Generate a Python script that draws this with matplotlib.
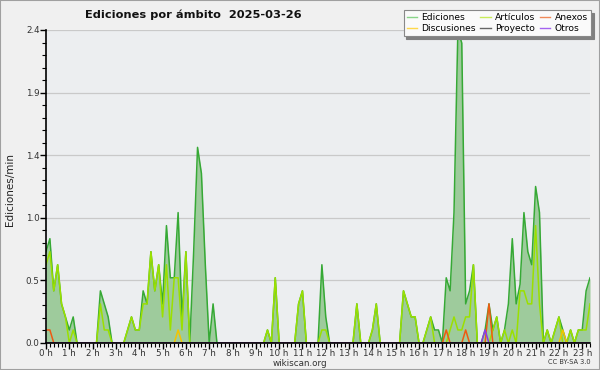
import matplotlib.pyplot as plt
import numpy as np
from matplotlib.patches import Rectangle
from matplotlib.lines import Line2D

# ediciones/min, media de cada tramo de 10 minutos (00:00 ... 23:20)
ediciones = [
    0.7, 0.8, 0.4, 0.6, 0.3, 0.2, 0.1, 0.2, 0, 0, 0, 0,
    0, 0, 0.4, 0.3, 0.2, 0, 0, 0, 0, 0.1, 0.2, 0.1,
    0.1, 0.4, 0.3, 0.7, 0.4, 0.6, 0.3, 0.9, 0.5, 0.5, 1.0, 0.2,
    0.7, 0, 0.7, 1.5, 1.3, 0.6, 0, 0.3, 0, 0, 0, 0,
    0, 0, 0, 0, 0, 0, 0, 0, 0, 0.1, 0, 0.5,
    0, 0, 0, 0, 0, 0.3, 0.4, 0, 0, 0, 0, 0.6,
    0.2, 0, 0, 0, 0, 0, 0, 0, 0.3, 0, 0, 0,
    0.1, 0.3, 0, 0, 0, 0, 0, 0, 0.4, 0.3, 0.2, 0.2,
    0, 0, 0.1, 0.2, 0.1, 0.1, 0, 0.5, 0.4, 1.0, 2.4, 2.3,
    0.3, 0.4, 0.6, 0, 0, 0.1, 0.3, 0.1, 0.2, 0, 0.1, 0.3,
    0.8, 0.3, 0.45, 1.0, 0.7, 0.6, 1.2, 1.0, 0, 0.1, 0, 0.1,
    0.2, 0.1, 0, 0.1, 0, 0.1, 0.1, 0.4, 0.5,
]
articulos = [
    0.6, 0.7, 0.4, 0.6, 0.3, 0.2, 0, 0.1, 0, 0, 0, 0,
    0, 0, 0.3, 0.1, 0.1, 0, 0, 0, 0, 0.1, 0.2, 0.1,
    0.1, 0.3, 0.3, 0.7, 0.4, 0.6, 0.2, 0.6, 0.1, 0.5, 0.5, 0.1,
    0.7, 0, 0, 0, 0, 0, 0, 0, 0, 0, 0, 0,
    0, 0, 0, 0, 0, 0, 0, 0, 0, 0.1, 0, 0.5,
    0, 0, 0, 0, 0, 0.3, 0.4, 0, 0, 0, 0, 0.1,
    0.1, 0, 0, 0, 0, 0, 0, 0, 0.3, 0, 0, 0,
    0.1, 0.3, 0, 0, 0, 0, 0, 0, 0.4, 0.3, 0.2, 0.2,
    0, 0, 0.1, 0.2, 0, 0, 0, 0, 0.1, 0.2, 0.1, 0.1,
    0.2, 0.2, 0.6, 0, 0, 0, 0, 0.1, 0.2, 0, 0.1, 0,
    0.1, 0, 0.4, 0.4, 0.3, 0.3, 0.9, 0.3, 0, 0.1, 0, 0.1,
    0.2, 0, 0, 0.1, 0, 0.1, 0.1, 0.1, 0.3,
]
anexos = [
    0.1, 0.1, 0, 0, 0, 0, 0, 0, 0, 0, 0, 0,
    0, 0, 0, 0, 0, 0, 0, 0, 0, 0, 0, 0,
    0, 0, 0, 0, 0, 0, 0, 0, 0, 0, 0, 0,
    0, 0, 0, 0, 0, 0, 0, 0, 0, 0, 0, 0,
    0, 0, 0, 0, 0, 0, 0, 0, 0, 0, 0, 0,
    0, 0, 0, 0, 0, 0, 0, 0, 0, 0, 0, 0,
    0, 0, 0, 0, 0, 0, 0, 0, 0, 0, 0, 0,
    0, 0, 0, 0, 0, 0, 0, 0, 0, 0, 0, 0,
    0, 0, 0, 0, 0, 0, 0, 0.1, 0, 0, 0, 0,
    0.1, 0, 0, 0, 0, 0, 0.3, 0, 0, 0, 0, 0,
    0, 0, 0, 0, 0, 0, 0, 0, 0, 0, 0, 0,
    0, 0, 0, 0, 0, 0, 0, 0, 0,
]
discusiones = [
    0, 0, 0, 0, 0, 0, 0, 0, 0, 0, 0, 0,
    0, 0, 0, 0, 0, 0, 0, 0, 0, 0, 0, 0,
    0, 0, 0, 0, 0, 0, 0, 0, 0, 0, 0.1, 0,
    0, 0, 0, 0, 0, 0, 0, 0, 0, 0, 0, 0,
    0, 0, 0, 0, 0, 0, 0, 0, 0, 0, 0, 0,
    0, 0, 0, 0, 0, 0, 0, 0, 0, 0, 0, 0,
    0, 0, 0, 0, 0, 0, 0, 0, 0, 0, 0, 0,
    0, 0, 0, 0, 0, 0, 0, 0, 0, 0, 0, 0,
    0, 0, 0, 0, 0, 0, 0, 0, 0, 0, 0, 0,
    0, 0, 0, 0, 0, 0, 0, 0, 0, 0, 0, 0,
    0, 0, 0, 0, 0, 0, 0, 0, 0, 0, 0, 0,
    0, 0.1, 0, 0, 0, 0, 0, 0, 0,
]
proyecto = [0] * 141
otros = [
    0, 0, 0, 0, 0, 0, 0, 0, 0, 0, 0, 0,
    0, 0, 0, 0, 0, 0, 0, 0, 0, 0, 0, 0,
    0, 0, 0, 0, 0, 0, 0, 0, 0, 0, 0, 0,
    0, 0, 0, 0, 0, 0, 0, 0, 0, 0, 0, 0,
    0, 0, 0, 0, 0, 0, 0, 0, 0, 0, 0, 0,
    0, 0, 0, 0, 0, 0, 0, 0, 0, 0, 0, 0,
    0, 0, 0, 0, 0, 0, 0, 0, 0, 0, 0, 0,
    0, 0, 0, 0, 0, 0, 0, 0, 0, 0, 0, 0,
    0, 0, 0, 0, 0, 0, 0, 0, 0, 0, 0, 0,
    0, 0, 0, 0, 0, 0.1, 0, 0, 0, 0, 0, 0,
    0, 0, 0, 0, 0, 0, 0, 0, 0, 0, 0, 0,
    0, 0, 0, 0, 0, 0, 0, 0, 0,
]

horas = list(range(24))
ymax = 2.4

x = np.arange(len(ediciones)) / 6.0

fig = plt.figure(figsize=(6, 3.7), dpi=100, facecolor='#f0f0f0')
ax = fig.add_axes([46/600, 27/370, 544/600, 313/370])
ax.set_facecolor('#eceef0')

# area total + lineas por ambito
ax.fill_between(x, 0, ediciones, color='#9ecb9c', lw=0, zorder=1)
ax.plot(x, ediciones, color='#36a935', lw=1.1, zorder=3)
ax.plot(x, articulos, color='#9be000', lw=1.1, zorder=4)
ax.plot(x, discusiones, color='#f2c400', lw=1.1, zorder=4)
ax.plot(x, proyecto, color='#555555', lw=1.1, zorder=4)
ax.plot(x, anexos, color='#ee5a12', lw=1.1, zorder=4)
ax.plot(x, otros, color='#8a3be8', lw=1.1, zorder=4)

ax.set_xlim(0, x[-1])
ax.set_ylim(0, ymax)

yt = [ymax * k / 5 for k in range(6)]
ax.set_yticks(yt)
ax.set_yticklabels(['%.1f' % v for v in yt])
ax.set_yticks(np.arange(0, ymax, ymax / 25), minor=True)
ax.set_xticks(horas)
ax.set_xticklabels(['%d h' % h for h in horas])
ax.set_xticks(np.arange(0, x[-1] + 0.01, 1 / 6), minor=True)

ax.tick_params(axis='both', which='major', direction='out', length=4, width=1,
               labelsize=6.3, colors='black', labelcolor='#333333', pad=0.5)
ax.tick_params(axis='both', which='minor', direction='out', length=3, width=0.8)

ax.yaxis.grid(True, color='#c9c9c9', lw=0.9)
ax.set_axisbelow(True)
for s in ['top', 'right']:
    ax.spines[s].set_visible(False)
for s in ['left', 'bottom']:
    ax.spines[s].set_linewidth(1.2)
    ax.spines[s].set_zorder(6)

fig.text(85/600, 1 - 15/370, 'Ediciones por ámbito  2025-03-26', fontsize=8.2,
         fontweight='bold', va='center', ha='left', color='#111111')
fig.text(10/600, 1 - 189/370, 'Ediciones/min', rotation=90, fontsize=7.5,
         va='center', ha='center', color='#222222')
fig.text(300/600, 1 - 363/370, 'wikiscan.org', fontsize=6.3, ha='center', va='center',
         color='#333333')
fig.text(591/600, 1 - 362/370, 'CC BY-SA 3.0', fontsize=4.8, ha='right', va='center',
         color='#333333')

labels = ['Ediciones', 'Discusiones', 'Artículos', 'Proyecto', 'Anexos', 'Otros']
colores = ['#88d488', '#ffd84a', '#c8ec5a', '#666666', '#f08a5a', '#a463f0']
handles = [Line2D([], [], color=c, lw=1) for c in colores]
leg = fig.legend(handles, labels, ncol=3, loc='upper right',
                 bbox_to_anchor=(591/600, 1 - 10/370), fontsize=6.6,
                 frameon=True, fancybox=False, shadow={'color': '#808080', 'alpha': 1},
                 handlelength=1.1, handletextpad=0.5, columnspacing=0.5,
                 labelspacing=0.2, borderpad=0.35, borderaxespad=0)
leg.get_frame().set_facecolor('#fafafa')
leg.get_frame().set_edgecolor('#888888')
leg.get_frame().set_linewidth(0.8)

fig.patches.append(Rectangle((0, 0), 1, 1, transform=fig.transFigure, fill=False,
                             edgecolor='#a0a0a0', lw=1.5))

fig.savefig('out.png', dpi=100, facecolor=fig.get_facecolor())
